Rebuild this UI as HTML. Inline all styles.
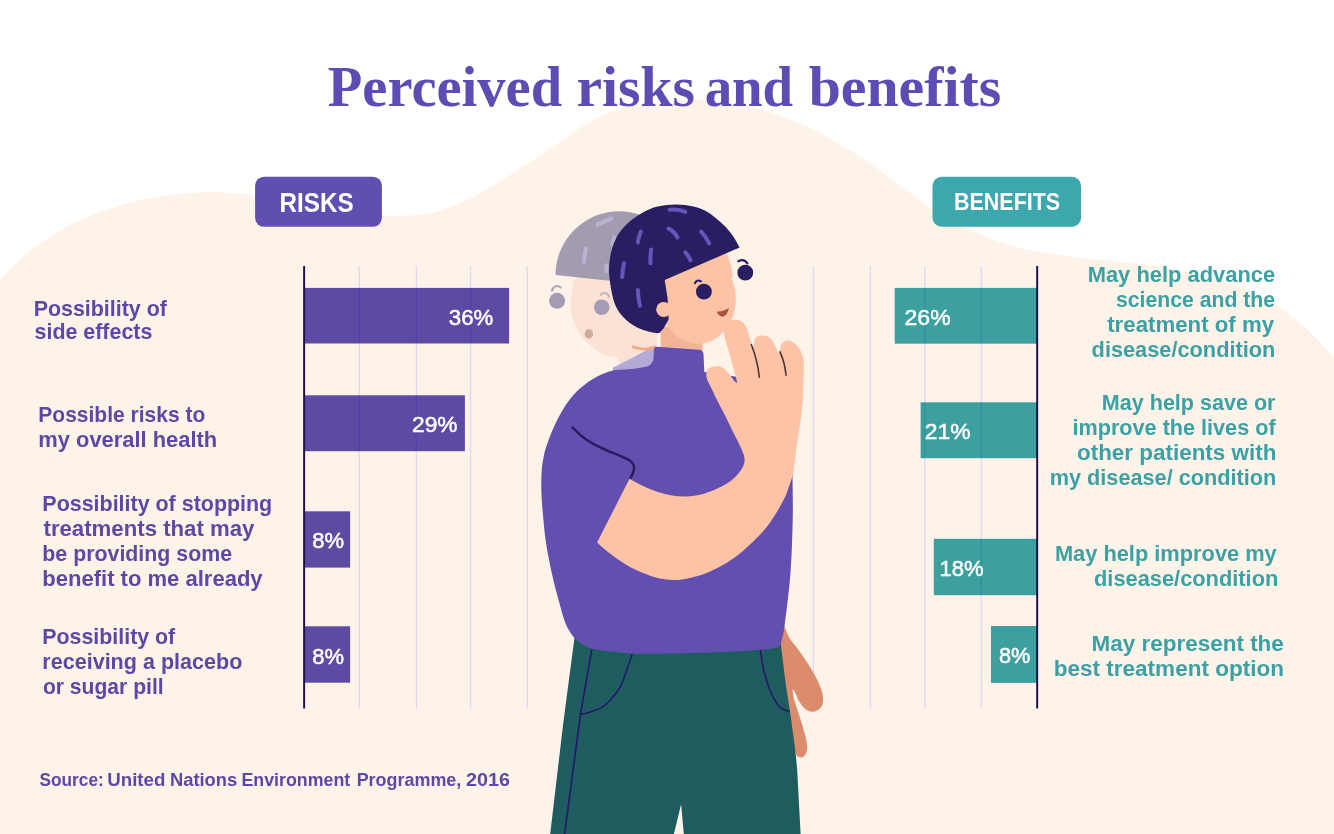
<!DOCTYPE html>
<html lang="en"><head><meta charset="utf-8"><title>Perceived risks and benefits</title>
<style>
html,body{margin:0;padding:0;background:#fff;}
body{width:1334px;height:834px;overflow:hidden;font-family:"Liberation Sans",sans-serif;}
svg{display:block;will-change:transform;}
text{white-space:pre;}
</style></head>
<body>
<svg width="1334" height="834" viewBox="0 0 1334 834">
<path d="M0.0,279.4 C3.2,276.1 13.0,265.8 19.5,259.9 C26.0,254.0 32.5,249.0 39.0,244.3 C45.5,239.6 52.0,235.4 58.5,231.6 C65.0,227.8 71.5,224.4 78.0,221.3 C84.5,218.2 91.0,215.6 97.5,213.1 C104.0,210.6 110.5,208.3 117.0,206.3 C123.5,204.3 129.9,202.5 136.4,201.0 C142.9,199.5 149.4,198.3 155.9,197.2 C162.4,196.1 168.9,194.9 175.4,194.2 C181.9,193.4 188.4,193.0 194.9,192.7 C201.4,192.4 207.9,192.2 214.4,192.3 C220.9,192.4 227.4,192.8 233.9,193.3 C240.4,193.8 242.4,193.6 253.4,195.2 C264.4,196.8 284.7,200.4 300.0,203.0 C315.3,205.6 331.4,208.9 345.0,211.0 C358.6,213.1 372.7,215.0 381.7,215.8 C390.7,216.7 393.0,216.3 399.2,216.1 C405.4,215.9 412.2,215.7 418.7,214.8 C425.2,213.9 431.7,212.7 438.2,210.9 C444.7,209.1 451.2,206.7 457.7,204.1 C464.2,201.5 470.7,198.7 477.2,195.3 C483.7,191.9 490.2,187.7 496.7,183.6 C503.2,179.5 509.7,175.1 516.2,170.9 C522.7,166.7 529.2,162.6 535.7,158.3 C542.2,154.0 549.5,148.8 555.2,145.0 C560.9,141.2 565.5,138.4 570.0,135.3 C574.5,132.2 576.7,130.0 582.5,126.5 C588.3,123.0 597.5,117.4 605.0,114.2 C612.5,111.0 620.0,109.4 627.5,107.5 C635.0,105.6 642.5,104.2 650.0,103.0 C657.5,101.8 664.9,100.9 672.4,100.3 C679.9,99.7 687.5,99.4 695.0,99.6 C702.5,99.8 709.9,100.3 717.4,101.2 C724.9,102.1 732.5,103.4 740.0,104.8 C747.5,106.2 754.9,107.6 762.4,109.7 C769.9,111.8 777.5,114.8 785.0,117.6 C792.5,120.4 799.9,123.1 807.4,126.6 C814.9,130.1 824.6,135.5 830.0,138.6 C835.4,141.7 836.3,142.8 840.0,145.0 C843.7,147.2 848.2,149.5 852.0,151.8 C855.8,154.1 857.0,154.8 862.5,158.6 C868.0,162.4 877.5,169.1 885.0,174.5 C892.5,179.9 900.0,185.5 907.5,191.0 C915.0,196.5 922.6,202.7 930.0,207.6 C937.4,212.5 944.5,216.4 952.0,220.5 C959.5,224.6 967.4,228.8 975.0,232.3 C982.6,235.8 989.9,238.7 997.4,241.3 C1004.9,243.9 1012.5,246.1 1020.0,248.0 C1027.5,249.9 1034.9,251.3 1042.4,252.6 C1049.9,253.8 1058.7,254.7 1065.0,255.5 C1071.3,256.4 1074.3,257.0 1080.0,257.7 C1085.7,258.4 1089.5,258.6 1099.0,259.6 C1108.5,260.6 1124.3,262.2 1137.0,263.8 C1149.7,265.4 1162.3,267.1 1175.0,269.5 C1187.7,271.9 1203.8,275.7 1213.3,278.1 C1222.8,280.6 1225.9,282.0 1232.3,284.2 C1238.7,286.4 1245.1,288.6 1251.4,291.4 C1257.8,294.2 1264.1,297.1 1270.4,300.9 C1276.7,304.7 1283.1,309.4 1289.4,314.3 C1295.8,319.2 1302.2,324.4 1308.5,330.4 C1314.8,336.4 1323.2,345.8 1327.5,350.4 C1331.8,355.0 1332.9,356.7 1334.0,358.0 L1334,834 L0,834 Z" fill="#FDF3E9"/>
<text x="327.80" y="105.7" textLength="234.30" lengthAdjust="spacingAndGlyphs" font-family="'Liberation Serif', sans-serif" font-size="57" font-weight="bold" fill="#5C4CB4" >Perceived</text>
<text x="576.49" y="105.7" textLength="118.40" lengthAdjust="spacingAndGlyphs" font-family="'Liberation Serif', sans-serif" font-size="57" font-weight="bold" fill="#5C4CB4" >risks</text>
<text x="704.64" y="105.7" textLength="88.47" lengthAdjust="spacingAndGlyphs" font-family="'Liberation Serif', sans-serif" font-size="57" font-weight="bold" fill="#5C4CB4" >and</text>
<text x="808.70" y="105.7" textLength="192.50" lengthAdjust="spacingAndGlyphs" font-family="'Liberation Serif', sans-serif" font-size="57" font-weight="bold" fill="#5C4CB4" >benefits</text>
<rect x="255.1" y="176.7" width="126.8" height="50.1" rx="9" fill="#604FB1"/>
<text x="279.52" y="211.7" textLength="74.03" lengthAdjust="spacingAndGlyphs" font-family="'Liberation Sans', sans-serif" font-size="27.6" font-weight="bold" fill="#fff" >RISKS</text>
<rect x="932.5" y="176.8" width="148.6" height="49.9" rx="9" fill="#3CA7AC"/>
<text x="953.91" y="209.6" textLength="106.31" lengthAdjust="spacingAndGlyphs" font-family="'Liberation Sans', sans-serif" font-size="24.2" font-weight="bold" fill="#fff" >BENEFITS</text>
<rect x="358.65" y="266" width="1.3" height="442.5" fill="#DFD6F2"/><rect x="415.75" y="266" width="1.3" height="442.5" fill="#DFD6F2"/><rect x="469.85" y="266" width="1.3" height="442.5" fill="#DFD6F2"/><rect x="526.65" y="266" width="1.3" height="442.5" fill="#DFD6F2"/><rect x="812.75" y="266" width="1.3" height="442.5" fill="#DFD6F2"/><rect x="869.75" y="266" width="1.3" height="442.5" fill="#DFD6F2"/><rect x="924.15" y="266" width="1.3" height="442.5" fill="#DFD6F2"/><rect x="980.65" y="266" width="1.3" height="442.5" fill="#DFD6F2"/>
<rect x="304" y="287.9" width="205.1" height="55.6" fill="#5E4DB2" style="mix-blend-mode:multiply"/>
<rect x="304" y="395.3" width="160.9" height="55.9" fill="#5E4DB2" style="mix-blend-mode:multiply"/>
<rect x="304" y="511.3" width="46.1" height="56.3" fill="#5E4DB2" style="mix-blend-mode:multiply"/>
<rect x="304" y="626.3" width="46.1" height="56.4" fill="#5E4DB2" style="mix-blend-mode:multiply"/>
<rect x="894.7" y="287.9" width="142.3" height="55.8" fill="#3CA8AE" style="mix-blend-mode:multiply"/>
<rect x="920.6" y="402.3" width="116.4" height="55.9" fill="#3CA8AE" style="mix-blend-mode:multiply"/>
<rect x="933.8" y="538.8" width="103.2" height="56.4" fill="#3CA8AE" style="mix-blend-mode:multiply"/>
<rect x="991" y="626" width="46.0" height="56.9" fill="#3CA8AE" style="mix-blend-mode:multiply"/>
<rect x="303.15" y="266" width="1.95" height="442.5" fill="#1E0E4C"/>
<rect x="1036.2" y="266" width="1.95" height="442.5" fill="#1E0E4C"/>
<g id="figure">
<path d="M616,350 L656.5,334 L657,347 L654,349 L654,364 L620,366 Z" fill="#FCE2D4"/>
<path d="M575.8,278.6 C571.2,281.9 573.4,284.9 572.6,288.0 C571.8,291.1 571.5,293.7 571.2,297.0 C570.9,300.3 570.7,304.8 570.8,307.8 C570.9,310.8 571.5,312.7 572.0,315.0 C572.5,317.3 573.3,319.6 574.1,321.8 C574.9,324.1 575.9,326.4 577.0,328.5 C578.1,330.6 579.3,332.7 580.6,334.7 C581.9,336.7 583.4,338.5 585.0,340.3 C586.6,342.1 588.5,343.9 590.3,345.5 C592.0,347.1 593.7,348.3 595.5,349.6 C597.3,350.9 598.7,352.0 601.1,353.1 C603.5,354.2 606.6,355.6 609.7,356.3 C612.8,357.0 615.8,357.4 619.5,357.4 C623.2,357.3 627.8,357.2 632.0,356.0 C636.2,354.8 640.9,353.0 645.0,350.0 C649.1,347.0 654.5,346.3 656.5,338.0 C658.5,329.7 659.8,311.0 657.0,300.0 C654.2,289.0 649.5,277.3 640.0,272.0 C630.5,266.7 610.7,266.9 600.0,268.0 C589.3,269.1 580.4,275.3 575.8,278.6Z" fill="#FCE2D4"/>
<path d="M555.5,275.1 A63.6,63.6 0 0 1 678.9,253.3 L640,284 Z" fill="#A39CB1"/>
<path d="M597.4,224.7 L611.2,218.7" stroke="#B9B2D3" stroke-width="4" stroke-linecap="round" fill="none"/>
<path d="M585.9,248.4 L583.9,262.3" stroke="#B9B2D3" stroke-width="4" stroke-linecap="round" fill="none"/>
<path d="M606.3,265.2 L606.3,271.2" stroke="#B9B2D3" stroke-width="4" stroke-linecap="round" fill="none"/>
<path d="M614.2,237.5 L612.2,244.5" stroke="#B9B2D3" stroke-width="4" stroke-linecap="round" fill="none"/>
<circle cx="557.1" cy="300.8" r="8" fill="#A59BB4"/>
<circle cx="601.7" cy="307.2" r="7.8" fill="#A59BB4"/>
<path d="M552,290.5 Q553.6,286.4 557,286 Q559.2,286 560.6,287.5" stroke="#AEA4BC" stroke-width="2.2" stroke-linecap="round" fill="none"/>
<path d="M600.6,294.8 Q603.5,292.2 606,293 Q608.2,294.2 609.2,297" stroke="#C9B8C4" stroke-width="2.2" stroke-linecap="round" fill="none"/>
<ellipse cx="588.9" cy="333.9" rx="4.2" ry="4.9" fill="#CDAD9E"/>
<path d="M612.8,367.8 L630.6,358.8 Q640,353.5 646.8,349.9 L654.5,348 L654.5,372 L612.8,372 Z" fill="#B4AAD8"/>
<path d="M633,346.8 Q643,351.2 655,346.9" stroke="#F0A985" stroke-width="2.7" stroke-linecap="round" fill="none"/>
<path d="M781.0,622.0 C783.5,621.8 786.8,633.9 789.9,638.8 C793.0,643.7 796.3,646.7 799.5,651.2 C802.7,655.7 806.2,661.0 809.1,665.6 C812.0,670.2 814.7,674.9 816.8,679.1 C818.9,683.3 820.5,687.1 821.6,690.6 C822.7,694.1 823.3,697.3 823.1,700.2 C822.9,703.1 822.1,705.9 820.6,707.8 C819.1,709.7 816.3,711.4 813.9,711.7 C811.5,712.0 808.6,711.4 806.2,709.8 C803.8,708.2 801.6,705.3 799.5,702.1 C797.4,698.9 795.9,693.3 793.8,690.6 C791.7,687.9 789.5,690.8 787.0,686.0 C784.5,681.2 781.0,669.7 779.0,662.0 C777.0,654.3 774.7,646.7 775.0,640.0 C775.3,633.3 778.5,622.2 781.0,622.0Z" fill="#DB8C6D"/>
<path d="M783.0,672.0 C784.8,671.8 789.7,682.3 791.5,686.7 C793.3,691.1 792.6,693.8 793.8,698.3 C795.0,702.8 797.0,708.5 798.6,713.6 C800.2,718.7 802.0,724.1 803.4,728.9 C804.8,733.7 806.2,738.7 806.8,742.4 C807.4,746.1 807.4,748.6 806.8,751.0 C806.2,753.4 804.8,755.8 803.4,756.8 C802.0,757.8 799.9,757.4 798.6,756.8 C797.3,756.1 797.1,756.5 795.7,752.9 C794.3,749.3 791.8,742.1 790.0,735.0 C788.2,727.9 786.5,717.8 785.0,710.0 C783.5,702.2 781.3,694.3 781.0,688.0 C780.7,681.7 781.2,672.2 783.0,672.0Z" fill="#DB8C6D"/>
<path d="M574.7,636 L563.2,723.5 L550.2,834 L673.9,834 L681.1,804.3 L683.8,834 L800.6,834 L797.2,770 L795.7,753.9 L790.9,717.4 L786.1,686.7 L781.3,648.4 L780,636 Z" fill="#1F5C60"/>
<path d="M591.9,648.7 L580.4,714.9 L564.6,834" stroke="#231867" stroke-width="1.6" fill="none"/>
<path d="M632.2,654.4 C631.2,657.3 627.9,666.7 626.0,672.0 C624.1,677.3 623.0,681.8 620.7,686.1 C618.4,690.4 614.9,694.6 612.0,698.0 C609.1,701.4 606.8,704.0 603.5,706.2 C600.2,708.5 595.8,710.1 592.0,711.5 C588.2,712.9 582.8,713.8 581.0,714.3" stroke="#231867" stroke-width="1.6" fill="none"/>
<path d="M760.3,650.1 C760.8,652.9 761.8,661.5 763.0,667.0 C764.2,672.5 765.9,678.4 767.5,683.2 C769.1,688.0 770.6,692.2 772.5,696.0 C774.4,699.8 777.0,703.9 779.0,706.2 C781.0,708.5 782.7,708.9 784.5,709.8 C786.3,710.7 788.8,711.3 789.6,711.6" stroke="#231867" stroke-width="1.6" fill="none"/>
<path d="M660.6,326 L660.6,352 L702.5,352 L703,330 Z" fill="#F1B497"/>
<path d="M657,346.7 L699,349.7 Q703.3,350 703.5,354 L704.3,372 L745,378 L795,440 L792.5,475  C792.5,481.7 793.1,498.8 792.8,515.1 C792.5,531.4 791.9,554.5 790.5,572.7 C789.1,590.9 786.2,613.1 784.7,624.5 C783.2,635.9 782.5,637.2 781.5,641.0 C780.5,644.8 779.4,646.2 779.0,647.2 C775.6,647.7 767.9,649.3 758.9,650.1 C749.9,650.9 736.0,651.5 725.0,652.0 C714.0,652.5 703.5,652.7 692.7,653.0 C681.9,653.3 669.6,653.6 660.0,653.7 C650.4,653.8 643.4,654.0 635.1,653.6 C626.8,653.2 617.2,652.3 610.0,651.5 C602.8,650.7 596.6,650.0 591.9,648.7 C587.2,647.5 584.9,645.7 582.0,644.0 C579.1,642.3 575.9,639.5 574.7,638.6 C573.2,636.2 568.8,631.3 566.0,624.5 C563.2,617.7 560.4,606.6 558.0,598.0 C555.6,589.4 553.7,581.9 551.7,572.7 C549.7,563.5 547.5,552.6 546.0,543.0 C544.5,533.4 543.8,523.6 543.0,515.1 C542.2,506.6 541.6,499.2 541.4,492.0 C541.2,484.8 541.2,478.1 541.6,471.9 C542.0,465.7 542.9,460.1 544.0,455.0 C545.1,449.9 546.1,446.9 548.1,441.4 C550.1,435.9 553.0,428.5 556.2,422.0 C559.4,415.5 563.5,408.3 567.5,402.6 C571.5,396.9 575.6,392.3 580.5,388.0 C585.4,383.7 591.3,379.6 596.7,376.7 C602.1,373.8 608.2,371.7 612.8,370.5 C617.4,369.3 620.2,369.8 624.2,369.4 C628.2,369.0 633.1,368.8 637.1,368.2 C641.1,367.6 645.7,367.4 648.4,366.1 C651.1,364.8 652.5,361.4 653.3,360.5 L654,350 Q654.1,346.5 657,346.7 Z" fill="#634FB0"/>
<path d="M629.4,479.1 C631.8,480.3 639.2,484.3 644.0,486.5 C648.8,488.7 653.4,490.6 658.1,492.1 C662.8,493.6 667.2,494.8 672.0,495.5 C676.8,496.2 682.1,496.6 686.9,496.4 C691.7,496.2 696.2,495.7 701.0,494.5 C705.8,493.3 711.4,491.0 715.7,489.2 C720.0,487.4 723.6,485.6 727.0,483.5 C730.4,481.4 733.3,479.0 735.8,476.5 C738.3,474.0 740.5,471.2 742.0,468.5 C743.5,465.8 744.5,463.2 744.6,460.0 C744.7,456.8 743.6,452.3 742.5,449.0 C741.4,445.7 739.3,442.4 738.0,440.0 C736.7,437.6 736.5,438.3 734.5,434.5 C732.5,430.7 728.6,422.3 726.0,417.0 C723.4,411.7 720.7,406.7 718.7,402.9 C716.7,399.1 714.8,395.5 714.0,394.0 L803.2,394  C803.1,394.8 803.2,394.6 802.8,398.9 C802.3,403.2 801.3,413.4 800.5,420.0 C799.7,426.6 798.6,433.2 797.8,438.5 C797.0,443.8 796.5,446.4 795.8,452.0 C795.1,457.6 794.4,466.4 793.4,471.9 C792.4,477.4 791.0,480.7 789.5,485.0 C788.0,489.3 787.1,492.8 784.7,497.8 C782.3,502.8 778.4,509.7 775.0,515.0 C771.6,520.3 768.8,524.6 764.6,529.5 C760.4,534.4 754.8,540.0 750.0,544.5 C745.2,549.0 740.6,553.2 735.8,556.8 C731.0,560.4 725.8,563.4 721.0,566.0 C716.2,568.6 711.9,570.8 707.1,572.7 C702.3,574.6 696.8,576.3 692.0,577.5 C687.2,578.7 683.1,579.6 678.3,579.9 C673.5,580.1 667.8,579.7 663.0,579.0 C658.2,578.3 654.3,577.2 649.5,575.5 C644.7,573.8 638.8,571.4 634.0,569.0 C629.2,566.6 625.0,564.0 620.7,561.2 C616.4,558.4 611.9,555.1 608.0,552.0 C604.1,548.9 598.9,544.0 597.1,542.4 Z" fill="#FDC3A6"/>
<path d="M572.4,427.3 C573.8,428.7 577.8,432.9 581.0,435.5 C584.2,438.1 587.7,440.8 591.9,443.2 C596.1,445.6 601.2,447.9 606.0,450.0 C610.8,452.1 616.8,454.4 620.7,456.1 C624.6,457.8 627.3,458.7 629.5,460.3 C631.7,461.9 633.2,464.1 633.9,466.0 C634.5,467.9 633.9,470.1 633.4,472.0 C632.9,473.9 631.1,476.8 630.6,477.7" stroke="#281E61" stroke-width="2.6" stroke-linecap="round" fill="none"/>
<ellipse cx="697.9" cy="298.9" rx="38" ry="45.1" fill="#FDC3A6"/>
<path d="M690,262 L726.8,252.8 Q731.3,263 733,277 L700,290 Z" fill="#FDC3A6"/>
<path d="M739.6,247.5 C738.4,245.5 735.3,239.2 732.4,235.3 C729.5,231.4 726.4,227.6 722.3,223.8 C718.2,220.0 712.7,215.2 707.9,212.3 C703.1,209.4 698.8,207.8 693.5,206.5 C688.2,205.2 682.3,204.4 676.3,204.4 C670.3,204.4 663.1,205.2 657.6,206.5 C652.1,207.8 648.0,209.7 643.2,212.3 C638.4,214.9 632.9,218.7 628.8,222.3 C624.7,225.9 621.5,229.5 618.7,233.8 C615.9,238.1 613.8,243.1 612.2,248.2 C610.6,253.2 609.7,258.9 609.3,264.1 C608.9,269.3 608.9,273.1 609.7,279.5 C610.5,285.9 612.1,296.2 614.3,302.4 C616.5,308.5 619.0,312.3 622.7,316.4 C626.4,320.5 631.7,324.5 636.7,327.2 C641.7,329.9 649.1,331.6 652.9,332.6 C656.7,333.6 658.3,333.0 659.4,333.1 L663.7,328.3 L668.6,319.5 L667.6,298.6 L664.7,279.9 Z" fill="#281E61"/>
<circle cx="663.7" cy="309.4" r="7.5" fill="#FDC3A6"/>
<path d="M669.6,209.8 Q677,208.6 685.4,211.8" stroke="#6556B9" stroke-width="4" stroke-linecap="round" fill="none"/>
<path d="M640.9,231.6 Q638.5,236.5 637.9,242.5" stroke="#6556B9" stroke-width="4" stroke-linecap="round" fill="none"/>
<path d="M668.6,228.6 Q674.5,231.5 677.5,237.5" stroke="#6556B9" stroke-width="4" stroke-linecap="round" fill="none"/>
<path d="M701.2,231.6 Q706,236.5 709.2,243.5" stroke="#6556B9" stroke-width="4" stroke-linecap="round" fill="none"/>
<path d="M651.2,249.4 Q650.2,256 650.4,263.3" stroke="#6556B9" stroke-width="4" stroke-linecap="round" fill="none"/>
<path d="M685.4,252.4 Q688.6,255.6 690.4,260.3" stroke="#6556B9" stroke-width="4" stroke-linecap="round" fill="none"/>
<path d="M624.1,263.3 Q622.5,270 622.1,277.1" stroke="#6556B9" stroke-width="4" stroke-linecap="round" fill="none"/>
<path d="M637.9,290 Q638,298 639.9,305.8" stroke="#6556B9" stroke-width="4" stroke-linecap="round" fill="none"/>
<circle cx="703.9" cy="291.7" r="7.9" fill="#281E61"/>
<circle cx="745.3" cy="272.7" r="7.9" fill="#281E61"/>
<path d="M695,283.2 Q696.6,279.2 700.8,281.2" stroke="#281E61" stroke-width="2.1" stroke-linecap="round" fill="none"/>
<path d="M738.3,261.3 Q744.2,258.2 747.4,263.4" stroke="#281E61" stroke-width="2.1" stroke-linecap="round" fill="none"/>
<path d="M716.7,311.7 Q723,311.6 728.9,308.2 Q727.5,315 723,316.7 Q718.5,316 716.7,311.7 Z" fill="#A5553A"/>
<path d="M746.5,462.0 C745.6,459.7 743.0,452.6 741.0,448.0 C739.0,443.4 737.0,439.7 734.5,434.5 C732.0,429.3 728.6,422.3 726.0,417.0 C723.4,411.7 721.0,407.5 718.7,402.9 C716.4,398.3 714.0,393.5 712.0,389.5 C710.0,385.5 707.9,381.8 707.0,379.0 C706.1,376.2 706.2,374.3 706.6,372.5 C707.0,370.7 707.8,369.0 709.5,368.0 C711.2,367.0 714.5,366.4 716.7,366.3 C718.9,366.2 720.6,366.6 722.5,367.6 C724.4,368.6 726.0,370.3 728.0,372.5 C730.0,374.7 733.0,379.4 734.5,381.0 C736.0,382.6 737.1,383.8 737.0,382.0 C736.9,380.2 735.3,375.0 734.0,370.0 C732.7,365.0 730.6,357.7 729.0,352.0 C727.4,346.3 725.3,340.2 724.5,336.0 C723.7,331.8 723.5,329.3 724.0,327.0 C724.5,324.7 726.2,323.2 727.5,322.0 C728.8,320.8 730.0,320.4 731.5,320.0 C733.0,319.6 734.7,319.5 736.5,319.8 C738.3,320.1 740.8,320.6 742.5,322.0 C744.2,323.4 745.2,325.0 746.5,328.0 C747.8,331.0 749.4,336.8 750.5,340.0 C751.6,343.2 752.2,347.2 753.0,347.0 C753.8,346.8 754.0,340.8 755.0,339.0 C756.0,337.2 757.6,336.6 759.0,336.0 C760.4,335.4 761.6,335.4 763.2,335.6 C764.8,335.8 766.9,336.0 768.5,337.0 C770.1,338.0 771.6,339.3 773.0,341.5 C774.4,343.7 775.9,348.1 777.0,350.0 C778.1,351.9 778.8,353.8 779.5,353.0 C780.2,352.2 780.2,346.9 781.0,345.0 C781.8,343.1 783.3,342.2 784.5,341.5 C785.7,340.8 786.6,340.5 788.0,340.6 C789.4,340.7 791.3,340.9 793.0,342.0 C794.7,343.1 796.5,345.0 798.0,347.0 C799.5,349.0 801.0,351.5 802.0,354.0 C803.0,356.5 803.5,357.7 803.8,362.0 C804.0,366.3 803.7,373.9 803.5,380.0 C803.3,386.1 803.3,392.2 802.8,398.9 C802.3,405.6 801.3,413.4 800.5,420.0 C799.7,426.6 798.6,433.2 797.8,438.5 C797.0,443.8 796.4,448.1 795.8,452.0 C795.2,455.9 794.3,460.3 794.0,462.0 Z" fill="#FDC3A6"/>
<path d="M751.3,344.5 Q757.5,360 759.3,377.2" stroke="#4B3730" stroke-width="1.6" stroke-linecap="round" fill="none"/>
<path d="M780,351.8 Q785,363 786,375.2" stroke="#4B3730" stroke-width="1.6" stroke-linecap="round" fill="none"/>
</g>
<text x="448.80" y="324.6" textLength="44.49" lengthAdjust="spacingAndGlyphs" font-family="'Liberation Sans', sans-serif" font-size="22.6" font-weight="normal" fill="#fff" stroke="#fff" stroke-width="0.5">36%</text>
<text x="411.99" y="431.8" textLength="45.60" lengthAdjust="spacingAndGlyphs" font-family="'Liberation Sans', sans-serif" font-size="22.6" font-weight="normal" fill="#fff" stroke="#fff" stroke-width="0.5">29%</text>
<text x="312.30" y="548.4" textLength="31.79" lengthAdjust="spacingAndGlyphs" font-family="'Liberation Sans', sans-serif" font-size="22.6" font-weight="normal" fill="#fff" stroke="#fff" stroke-width="0.5">8%</text>
<text x="312.30" y="663.5" textLength="31.79" lengthAdjust="spacingAndGlyphs" font-family="'Liberation Sans', sans-serif" font-size="22.6" font-weight="normal" fill="#fff" stroke="#fff" stroke-width="0.5">8%</text>
<text x="904.58" y="324.8" textLength="46.01" lengthAdjust="spacingAndGlyphs" font-family="'Liberation Sans', sans-serif" font-size="22.6" font-weight="normal" fill="#fff" stroke="#fff" stroke-width="0.5">26%</text>
<text x="924.79" y="439.1" textLength="45.80" lengthAdjust="spacingAndGlyphs" font-family="'Liberation Sans', sans-serif" font-size="22.6" font-weight="normal" fill="#fff" stroke="#fff" stroke-width="0.5">21%</text>
<text x="939.52" y="575.7" textLength="44.16" lengthAdjust="spacingAndGlyphs" font-family="'Liberation Sans', sans-serif" font-size="22.6" font-weight="normal" fill="#fff" stroke="#fff" stroke-width="0.5">18%</text>
<text x="999.00" y="663.2" textLength="31.39" lengthAdjust="spacingAndGlyphs" font-family="'Liberation Sans', sans-serif" font-size="22.6" font-weight="normal" fill="#fff" stroke="#fff" stroke-width="0.5">8%</text>
<text x="33.63" y="316.1" textLength="133.28" lengthAdjust="spacingAndGlyphs" font-family="'Liberation Sans', sans-serif" font-size="22.2" font-weight="bold" fill="#5C49A6" >Possibility of</text>
<text x="34.60" y="339.2" textLength="117.73" lengthAdjust="spacingAndGlyphs" font-family="'Liberation Sans', sans-serif" font-size="22.2" font-weight="bold" fill="#5C49A6" >side effects</text>
<text x="38.35" y="421.9" textLength="166.87" lengthAdjust="spacingAndGlyphs" font-family="'Liberation Sans', sans-serif" font-size="22.2" font-weight="bold" fill="#5C49A6" >Possible risks to</text>
<text x="38.31" y="446.6" textLength="178.93" lengthAdjust="spacingAndGlyphs" font-family="'Liberation Sans', sans-serif" font-size="22.2" font-weight="bold" fill="#5C49A6" >my overall health</text>
<text x="42.33" y="511.3" textLength="229.90" lengthAdjust="spacingAndGlyphs" font-family="'Liberation Sans', sans-serif" font-size="22.2" font-weight="bold" fill="#5C49A6" >Possibility of stopping</text>
<text x="43.50" y="536.1" textLength="210.94" lengthAdjust="spacingAndGlyphs" font-family="'Liberation Sans', sans-serif" font-size="22.2" font-weight="bold" fill="#5C49A6" >treatments that may</text>
<text x="42.34" y="561.0" textLength="189.69" lengthAdjust="spacingAndGlyphs" font-family="'Liberation Sans', sans-serif" font-size="22.2" font-weight="bold" fill="#5C49A6" >be providing some</text>
<text x="42.31" y="586.0" textLength="220.34" lengthAdjust="spacingAndGlyphs" font-family="'Liberation Sans', sans-serif" font-size="22.2" font-weight="bold" fill="#5C49A6" >benefit to me already</text>
<text x="42.34" y="643.9" textLength="132.87" lengthAdjust="spacingAndGlyphs" font-family="'Liberation Sans', sans-serif" font-size="22.2" font-weight="bold" fill="#5C49A6" >Possibility of</text>
<text x="42.33" y="668.9" textLength="200.01" lengthAdjust="spacingAndGlyphs" font-family="'Liberation Sans', sans-serif" font-size="22.2" font-weight="bold" fill="#5C49A6" >receiving a placebo</text>
<text x="42.90" y="693.8" textLength="120.71" lengthAdjust="spacingAndGlyphs" font-family="'Liberation Sans', sans-serif" font-size="22.2" font-weight="bold" fill="#5C49A6" >or sugar pill</text>
<text x="1087.71" y="282.3" textLength="187.42" lengthAdjust="spacingAndGlyphs" font-family="'Liberation Sans', sans-serif" font-size="22.2" font-weight="bold" fill="#3CA1A5" >May help advance</text>
<text x="1116.00" y="307.2" textLength="159.12" lengthAdjust="spacingAndGlyphs" font-family="'Liberation Sans', sans-serif" font-size="22.2" font-weight="bold" fill="#3CA1A5" >science and the</text>
<text x="1107.20" y="332.0" textLength="166.94" lengthAdjust="spacingAndGlyphs" font-family="'Liberation Sans', sans-serif" font-size="22.2" font-weight="bold" fill="#3CA1A5" >treatment of my</text>
<text x="1091.60" y="357.3" textLength="183.74" lengthAdjust="spacingAndGlyphs" font-family="'Liberation Sans', sans-serif" font-size="22.2" font-weight="bold" fill="#3CA1A5" >disease/condition</text>
<text x="1101.83" y="410.3" textLength="173.62" lengthAdjust="spacingAndGlyphs" font-family="'Liberation Sans', sans-serif" font-size="22.2" font-weight="bold" fill="#3CA1A5" >May help save or</text>
<text x="1072.53" y="435.2" textLength="203.08" lengthAdjust="spacingAndGlyphs" font-family="'Liberation Sans', sans-serif" font-size="22.2" font-weight="bold" fill="#3CA1A5" >improve the lives of</text>
<text x="1077.00" y="460.0" textLength="199.36" lengthAdjust="spacingAndGlyphs" font-family="'Liberation Sans', sans-serif" font-size="22.2" font-weight="bold" fill="#3CA1A5" >other patients with</text>
<text x="1049.72" y="484.9" textLength="226.62" lengthAdjust="spacingAndGlyphs" font-family="'Liberation Sans', sans-serif" font-size="22.2" font-weight="bold" fill="#3CA1A5" >my disease/ condition</text>
<text x="1054.92" y="561.0" textLength="221.83" lengthAdjust="spacingAndGlyphs" font-family="'Liberation Sans', sans-serif" font-size="22.2" font-weight="bold" fill="#3CA1A5" >May help improve my</text>
<text x="1094.00" y="585.6" textLength="184.34" lengthAdjust="spacingAndGlyphs" font-family="'Liberation Sans', sans-serif" font-size="22.2" font-weight="bold" fill="#3CA1A5" >disease/condition</text>
<text x="1091.59" y="651.2" textLength="192.26" lengthAdjust="spacingAndGlyphs" font-family="'Liberation Sans', sans-serif" font-size="22.2" font-weight="bold" fill="#3CA1A5" >May represent the</text>
<text x="1053.68" y="676.1" textLength="230.38" lengthAdjust="spacingAndGlyphs" font-family="'Liberation Sans', sans-serif" font-size="22.2" font-weight="bold" fill="#3CA1A5" >best treatment option</text>
<text x="39.60" y="786.2" textLength="64.10" lengthAdjust="spacingAndGlyphs" font-family="'Liberation Sans', sans-serif" font-size="19" font-weight="bold" fill="#5C49A6" >Source:</text>
<text x="107.22" y="786.2" textLength="58.18" lengthAdjust="spacingAndGlyphs" font-family="'Liberation Sans', sans-serif" font-size="19" font-weight="bold" fill="#5C49A6" >United</text>
<text x="169.93" y="786.2" textLength="67.31" lengthAdjust="spacingAndGlyphs" font-family="'Liberation Sans', sans-serif" font-size="19" font-weight="bold" fill="#5C49A6" >Nations</text>
<text x="241.46" y="786.2" textLength="108.71" lengthAdjust="spacingAndGlyphs" font-family="'Liberation Sans', sans-serif" font-size="19" font-weight="bold" fill="#5C49A6" >Environment</text>
<text x="356.66" y="786.2" textLength="104.61" lengthAdjust="spacingAndGlyphs" font-family="'Liberation Sans', sans-serif" font-size="19" font-weight="bold" fill="#5C49A6" >Programme,</text>
<text x="466.00" y="786.2" textLength="43.99" lengthAdjust="spacingAndGlyphs" font-family="'Liberation Sans', sans-serif" font-size="19" font-weight="bold" fill="#5C49A6" >2016</text>
</svg>
</body></html>
